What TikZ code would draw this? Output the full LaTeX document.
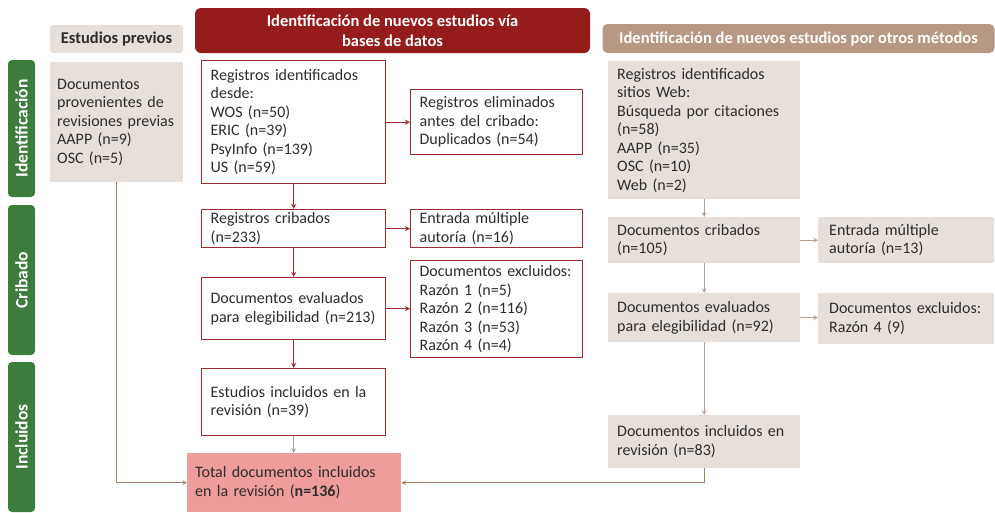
\documentclass[tikz,border=0pt]{standalone}
\usepackage{fontspec}
\setmainfont{Carlito}
\usepackage{tikz}
\usetikzlibrary{arrows,positioning}

\definecolor{verde}{RGB}{61,125,60}
\definecolor{bdrojo}{RGB}{150,27,27}
\definecolor{borde}{RGB}{160,42,46}
\definecolor{beige}{RGB}{231,223,217}
\definecolor{tostado}{RGB}{184,152,132}
\definecolor{flecha}{RGB}{182,158,144}
\definecolor{marron}{RGB}{168,126,102}
\definecolor{rosa}{RGB}{239,156,156}
\definecolor{texto}{RGB}{45,45,45}

\begin{document}
\begin{tikzpicture}[>=stealth, x=1pt, y=-1pt,
    every node/.style={font=\fontsize{16}{18.5}\selectfont, text=texto},
    caja/.style={rectangle, anchor=north west, align=left, inner xsep=9pt, inner ysep=0pt},
    bd/.style={caja, draw=borde, line width=1.3pt, fill=white},
    om/.style={caja, fill=beige},
    cab/.style={rectangle, align=center, inner sep=0pt, font=\fontsize{16.5}{20}\selectfont\bfseries},
    etapa/.style={rectangle, fill=verde, rounded corners=4pt, rotate=90, inner sep=0pt,
        minimum height=27pt, text=white, font=\fontsize{17.5}{18}\selectfont\bfseries},
    rojo/.style={->, draw=borde, line width=1.3pt},
    gris/.style={->, draw=flecha, line width=1.1pt},
    largo/.style={->, draw=marron, line width=1.1pt}]
    \useasboundingbox (0,0) rectangle (995,512);

    % etapas
    \node[etapa, minimum width=137pt] (fId)  at (21.5,128.5) {Identificación};
    \node[etapa, minimum width=150pt] (fCri) at (21.5,280)   {Cribado};
    \node[etapa, minimum width=150pt] (fInc) at (21.5,437)   {Incluidos};

    % cabeceras
    \node[cab, fill=beige, rounded corners=3pt, minimum width=133pt, minimum height=28pt] (hPrev) at (116.5,39) {Estudios previos};
    \node[cab, fill=bdrojo, text=white, rounded corners=6pt, minimum width=395pt, minimum height=45pt] (hDB) at (392.5,30.5)
        {Identificación de nuevos estudios vía\\bases de datos};
    \node[cab, fill=tostado, text=white, rounded corners=5pt, minimum width=392pt, minimum height=29pt] (hOM) at (798.5,38.5)
        {Identificación de nuevos estudios por otros métodos};

    % estudios previos
    \node[om, inner xsep=7pt, text width=119pt, minimum height=120pt] (prev) at (50,62)
        {Documentos\\provenientes de\\revisiones previas\\AAPP (n=9)\\OSC (n=5)};

    % bases de datos
    \node[bd, text width=166pt, minimum height=123pt] (dbId) at (201,60)
        {Registros identificados\\desde:\\WOS (n=50)\\ERIC (n=39)\\PsyInfo (n=139)\\US (n=59)};
    \node[bd, text width=154pt, minimum height=65pt] (dbDup) at (410,89)
        {Registros eliminados\\antes del cribado:\\Duplicados (n=54)};
    \node[bd, text width=166pt, minimum height=38pt] (dbCrib) at (201,209)
        {Registros cribados\\(n=233)};
    \node[bd, text width=154pt, minimum height=38pt] (dbMult) at (410,209)
        {Entrada múltiple\\autoría (n=16)};
    \node[bd, text width=166pt, minimum height=62pt] (dbEval) at (201,277)
        {Documentos evaluados\\para elegibilidad (n=213)};
    \node[bd, text width=154pt, minimum height=97pt] (dbExcl) at (410,260)
        {Documentos excluidos:\\Razón 1 (n=5)\\Razón 2 (n=116)\\Razón 3 (n=53)\\Razón 4 (n=4)};
    \node[bd, text width=166pt, minimum height=67pt] (dbIncl) at (201,368)
        {Estudios incluidos en la\\revisión (n=39)};

    % total
    \node[caja, fill=rosa, inner xsep=8pt, text width=198pt, minimum height=59pt] (total) at (187,453)
        {Total documentos incluidos\\en la revisión (\textbf{n=136})};

    % otros metodos
    \node[om, text width=174pt, minimum height=138pt] (omId) at (608,61)
        {Registros identificados\\sitios Web:\\Búsqueda por citaciones\\(n=58)\\AAPP (n=35)\\OSC (n=10)\\Web (n=2)};
    \node[om, text width=174pt, minimum height=46pt] (omCrib) at (608,217)
        {Documentos cribados\\(n=105)};
    \node[om, inner xsep=11pt, text width=154pt, minimum height=46pt] (omMult) at (818,217)
        {Entrada múltiple\\autoría (n=13)};
    \node[om, text width=174pt, minimum height=49pt] (omEval) at (608,293)
        {Documentos evaluados\\para elegibilidad (n=92)};
    \node[om, inner xsep=11pt, text width=154pt, minimum height=51pt] (omExcl) at (818,293)
        {Documentos excluidos:\\Razón 4 (9)};
    \node[om, text width=174pt, minimum height=53pt] (omIncl) at (608,415)
        {Documentos incluidos en\\revisión (n=83)};

    % flechas
    \draw[rojo] (dbId) -- (dbCrib);
    \draw[rojo] (dbId.east) -- (dbId.east -| dbDup.west);
    \draw[rojo] (dbCrib.east) -- (dbCrib.east -| dbMult.west);
    \draw[rojo] (dbCrib) -- (dbEval);
    \draw[rojo] (dbEval.east) -- (dbEval.east -| dbExcl.west);
    \draw[rojo] (dbEval) -- (dbIncl);
    \draw[gris] (dbIncl.south) -- (dbIncl.south |- total.north);
    \draw[largo] (prev.south) |- (total.west);
    \draw[largo] (omIncl.south) |- (total.east);
    \draw[gris] (omId) -- (omCrib);
    \draw[gris] (omCrib.east) -- (omCrib.east -| omMult.west);
    \draw[gris] (omCrib) -- (omEval);
    \draw[gris] (omEval.east) -- (omEval.east -| omExcl.west);
    \draw[gris] (omEval) -- (omIncl);
\end{tikzpicture}
\end{document}
